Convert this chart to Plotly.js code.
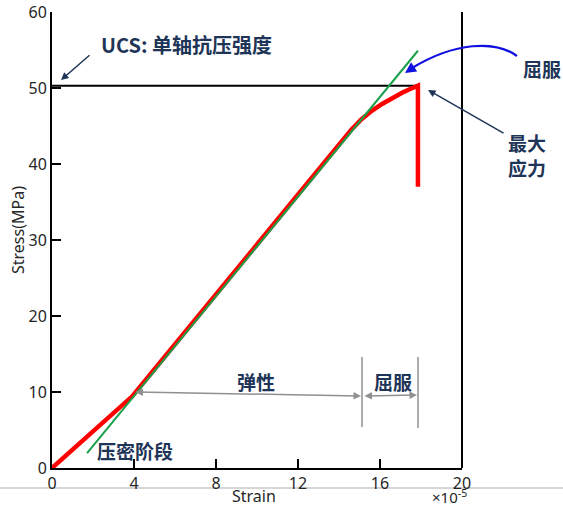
<!DOCTYPE html>
<html><head><meta charset="utf-8">
<script src="https://cdn.plot.ly/plotly-3.0.1.min.js"></script>
<style>html,body{margin:0;padding:0;background:#fff}</style>
</head><body><div id="chart" style="width:563px;height:506px"></div>
<script>
// Data
const curveStrain = [0, 1, 2, 3, 3.9, 5, 8, 12, 14, 14.6, 15.1, 15.6, 16.1, 16.6, 17.1, 17.5, 17.85, 17.85];
const curveStress = [0, 2.4, 4.9, 7.2, 9.4, 13.0, 22.9, 36.0, 42.6, 44.5, 45.9, 47.0, 47.9, 48.7, 49.4, 49.9, 50.3, 37.0];
const fitStrain = [1.71, 17.85];
const fitStress = [1.97, 54.9];
const ucsStrain = [0, 17.85];
const ucsStress = [50.3, 50.3];
const xTicks = [0, 4, 8, 12, 16, 20];
const yTicks = [0, 10, 20, 30, 40, 50, 60];

// plot geometry helpers (paper coords from pixel)
const L = 52, R = 462, T = 12, B = 468;
const px = v => (v - L) / (R - L);
const py = v => (B - v) / (B - T);

const navy = '#1e3557';
const cjk = '"Noto Sans CJK SC", "Noto Sans", sans-serif';
const latin = '"Noto Sans", sans-serif';

const traces = [
  {x: ucsStrain, y: ucsStress, mode: 'lines', line: {color: '#000', width: 2}, hoverinfo: 'skip'},
  {x: curveStrain, y: curveStress, mode: 'lines', line: {color: '#ff0000', width: 4.5}, hoverinfo: 'skip'},
  {x: fitStrain, y: fitStress, mode: 'lines', line: {color: '#1aa04a', width: 2}, hoverinfo: 'skip'}
];

const txt = (t, x, y, size, extra) => Object.assign({
  text: t, xref: 'paper', yref: 'paper', x: px(x), y: py(y), showarrow: false,
  xanchor: 'center', yanchor: 'middle',
  font: {family: cjk, size: size, color: navy, weight: 700}
}, extra || {});

const arr = (x0, y0, x1, y1, color, width, head, side) => ({
  text: '', xref: 'paper', yref: 'paper', x: px(x1), y: py(y1),
  axref: 'pixel', ayref: 'pixel', ax: x0 - x1, ay: y0 - y1,
  showarrow: true, arrowcolor: color, arrowwidth: width, arrowhead: head,
  arrowsize: 1, arrowside: side || 'end', standoff: 0, startstandoff: 0, startarrowhead: head, startarrowsize: 1
});

const layout = {
  width: 563, height: 506,
  margin: {l: L, r: 563 - R, t: T, b: 506 - B, pad: 0},
  paper_bgcolor: '#fff', plot_bgcolor: '#fff',
  showlegend: false,
  font: {family: latin, color: '#262626', size: 15},
  xaxis: {
    range: [0, 20], tickvals: xTicks, ticktext: xTicks.map(String),
    showgrid: false, zeroline: false, showline: true, linecolor: '#000', linewidth: 2,
    ticks: 'inside', ticklen: 9, tickwidth: 1.5, tickcolor: '#000', ticklabeloverflow: 'allow',
    tickfont: {size: 16, color: '#262626'}, fixedrange: true
  },
  yaxis: {
    range: [0, 60], tickvals: yTicks, ticktext: yTicks.map(String),
    showgrid: false, zeroline: false, showline: true, linecolor: '#000', linewidth: 2,
    ticks: 'inside', ticklen: 9, tickwidth: 1.5, tickcolor: '#000', ticklabeloverflow: 'allow',
    tickfont: {size: 16, color: '#262626'}, fixedrange: true
  },
  shapes: [
    // light gray image edge line
    {type: 'line', layer: 'below', xref: 'paper', yref: 'paper', x0: px(0), x1: px(563), y0: py(488), y1: py(488), line: {color: '#d6d6d6', width: 2}},
    // right border line
    {type: 'line', xref: 'paper', yref: 'paper', x0: 1, x1: 1, y0: 0, y1: 1, line: {color: '#000', width: 2}},
    // gray divider lines
    {type: 'line', xref: 'paper', yref: 'paper', x0: px(362), x1: px(362), y0: py(357), y1: py(427), line: {color: '#909090', width: 1.5}},
    {type: 'line', xref: 'paper', yref: 'paper', x0: px(418), x1: px(418), y0: py(357), y1: py(428), line: {color: '#909090', width: 1.5}},
    // curved blue arrow body
    {type: 'path', xref: 'paper', yref: 'paper',
     path: 'M ' + px(517) + ',' + py(56) + ' C ' + px(495) + ',' + py(40) + ' ' + px(455) + ',' + py(42) + ' ' + px(412) + ',' + py(68),
     line: {color: '#1010e0', width: 2.2}}
  ],
  annotations: [
    txt('UCS: 单轴抗压强度', 186, 44, 20),
    txt('屈服', 542, 68, 19),
    txt('最大<br>应力', 527, 155, 19),
    txt('弹性', 256, 381, 19),
    txt('屈服', 393, 381, 19),
    txt('压密阶段', 135, 450, 19),
    txt('Strain', 254, 496, 16, {font: {family: latin, size: 16, color: '#262626'}}),
    txt('Stress(MPa)', 18, 230, 16, {textangle: -90, font: {family: latin, size: 16, color: '#262626'}}),
    txt('×10<sup>-5</sup>', 449, 496, 15, {borderpad: 0, font: {family: latin, size: 15, color: '#262626'}}),
    arr(91, 54, 61, 80, navy, 1.5, 2),
    arr(505, 134, 428, 90, navy, 1.5, 2),
    arr(414, 67, 405, 73, '#1010e0', 2.2, 2),
    arr(134, 392, 361, 396, '#909090', 1.5, 2, 'end+start'),
    arr(363, 396, 417, 395, '#909090', 1.5, 2, 'end+start')
  ]
};

Plotly.newPlot('chart', traces, layout, {displayModeBar: false, staticPlot: true});
</script></body></html>
